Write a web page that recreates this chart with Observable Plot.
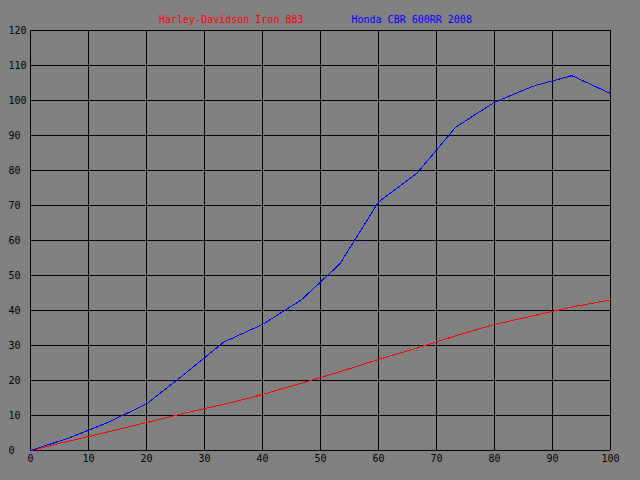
<!DOCTYPE html>
<html>
<head>
<meta charset="utf-8">
<script src="https://cdn.jsdelivr.net/npm/d3@7"></script>
<script src="https://cdn.jsdelivr.net/npm/@observablehq/plot@0.6"></script>
<style>
  html, body { margin: 0; padding: 0; background: #808080; }
  #wrap { position: relative; width: 640px; height: 480px; }
  #legend { position: absolute; top: 14px; left: 159px; font: 10px "DejaVu Sans Mono", monospace; line-height: 12px; white-space: pre; }
  #legend span { display: inline-block; }
  #chart svg { display: block; }
</style>
</head>
<body>
<div id="wrap">
  <div id="chart"></div>
  <div id="legend"></div>
</div>
<script>
const seriesNames = ["Harley-Davidson Iron 883", "Honda CBR 600RR 2008"];
const seriesColors = ["#ff0000", "#0000ff"];
const xValues = [0, 6.67, 13.33, 20, 26.67, 33.33, 40, 46.67, 53.33, 60, 66.67, 73.33, 80, 86.67, 93.33, 100];
const harley = [0, 2.7, 5.3, 8, 10.7, 13.2, 16, 19.2, 22.5, 26, 29.3, 32.8, 36, 38.5, 41, 43];
const honda = [0, 3.6, 8, 13.3, 22, 31, 36, 43, 53.3, 71, 79.3, 92.4, 99.5, 104.1, 107.1, 102];
const xTicks = [0, 10, 20, 30, 40, 50, 60, 70, 80, 90, 100];
const yTicks = [0, 10, 20, 30, 40, 50, 60, 70, 80, 90, 100, 110, 120];

const data = [];
[harley, honda].forEach((vals, s) => {
  vals.forEach((v, i) => data.push({series: seriesNames[s], x: xValues[i], y: v}));
});

const chart = Plot.plot({
  width: 640,
  height: 480,
  marginLeft: 30,
  marginRight: 30,
  marginTop: 30,
  marginBottom: 30,
  style: {background: "#808080", fontFamily: "'DejaVu Sans Mono', monospace", fontSize: "10px", color: "#000"},
  x: {domain: [0, 100]},
  y: {domain: [0, 120]},
  color: {domain: seriesNames, range: seriesColors},
  marks: [
    Plot.gridX(xTicks, {stroke: "#000", strokeOpacity: 1, strokeWidth: 1}),
    Plot.gridY(yTicks, {stroke: "#000", strokeOpacity: 1, strokeWidth: 1}),
    Plot.axisX(xTicks, {tickSize: 0, tickPadding: 4, label: null, fill: "#000", tickFormat: d => String(d)}),
    Plot.axisY(yTicks, {tickSize: 0, tickPadding: 22, textAnchor: "start", label: null, fill: "#000", tickFormat: d => String(d)}),
    Plot.line(data, {x: "x", y: "y", z: "series", stroke: "series", strokeWidth: 1, shapeRendering: "crispEdges"})
  ]
});
document.getElementById("chart").appendChild(chart);

const legend = document.getElementById("legend");
seriesNames.forEach((name, i) => {
  const s = document.createElement("span");
  s.textContent = name;
  s.style.color = seriesColors[i];
  if (i > 0) s.style.marginLeft = "48px";
  legend.appendChild(s);
});
</script>
</body>
</html>
